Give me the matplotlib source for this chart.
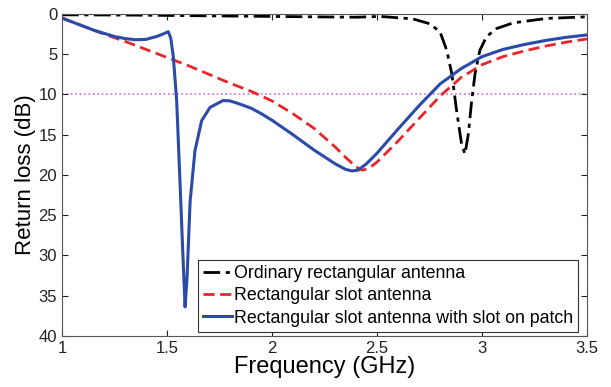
import numpy as np
import matplotlib.pyplot as plt

plt.rcParams['font.family'] = ['Liberation Sans', 'DejaVu Sans']

# ordinary rectangular antenna
f_ord = [1.0, 1.2, 1.4, 1.6, 1.8, 2.0, 2.2, 2.4, 2.514, 2.67, 2.75, 2.8, 2.832,
         2.856, 2.879, 2.903, 2.919, 2.935, 2.951, 2.967, 2.99, 3.022, 3.07,
         3.149, 3.308, 3.5]
rl_ord = [0.1, 0.12, 0.15, 0.2, 0.25, 0.3, 0.35, 0.4, 0.3, 0.6, 1.2, 2.2, 4.5,
          7.4, 12.0, 16.2, 17.4, 14.9, 10.75, 7.4, 4.5, 2.8, 1.8,
          1.1, 0.55, 0.35]

# rectangular slot antenna
f_slot = [1.0, 1.1, 1.2, 1.3, 1.4, 1.5, 1.6, 1.7, 1.8, 1.9, 2.0, 2.1, 2.2, 2.3,
          2.35, 2.4, 2.43, 2.46, 2.5, 2.6, 2.7, 2.8, 2.9, 3.0, 3.1, 3.2, 3.3,
          3.4, 3.5]
rl_slot = [0.5, 1.5, 2.5, 3.4, 4.4, 5.4, 6.4, 7.5, 8.6, 9.6, 10.8, 12.4, 14.2,
           16.5, 17.8, 19.0, 19.4, 19.2, 18.4, 15.8, 13.0, 10.2, 7.9, 6.3, 5.3,
           4.6, 4.0, 3.5, 3.1]

# rectangular slot antenna with slot on patch
f_patch = [1.0, 1.05, 1.1, 1.15, 1.2, 1.25, 1.3, 1.35, 1.4, 1.45, 1.48, 1.506,
           1.518, 1.53, 1.546, 1.562, 1.575, 1.586, 1.595, 1.61, 1.633,
           1.665, 1.705, 1.767, 1.8, 1.848, 1.9, 1.95, 2.0, 2.1,
           2.2, 2.3, 2.35, 2.38, 2.41, 2.45, 2.5, 2.6, 2.7, 2.8, 2.9, 3.0, 3.1,
           3.2, 3.3, 3.4, 3.5]
rl_patch = [0.5, 1.0, 1.5, 2.0, 2.4, 2.8, 3.05, 3.2, 3.15, 2.8, 2.5, 2.2,
            3.0, 5.3, 10.75, 21.0, 29.5, 36.4, 33.0, 23.3, 17.0,
            13.25, 11.6, 10.75, 10.8, 11.2, 11.7, 12.4, 13.2, 15.0,
            16.9, 18.6, 19.3, 19.5, 19.4, 18.6, 17.3, 14.3, 11.4, 8.7, 6.8, 5.3, 4.4,
            3.8, 3.3, 2.9, 2.6]

ref_level = 10

fig = plt.figure(figsize=(6.11, 3.87), dpi=100)
ax = fig.add_axes([0.1015, 0.132, 0.8592, 0.8318])

ax.axhline(ref_level, color='#d46ad4', linestyle=':', linewidth=1.2, zorder=1)
ax.plot(f_ord, rl_ord, color='black', linestyle=(0, (6, 2, 1.5, 2)),
        linewidth=2, label='Ordinary rectangular antenna')
ax.plot(f_slot, rl_slot, color='#e8262a', linestyle=(0, (4, 2)),
        linewidth=2, label='Rectangular slot antenna')
ax.plot(f_patch, rl_patch, color='#2c4aa8', linewidth=2.2,
        label='Rectangular slot antenna with slot on patch')

ax.set_xlim(1, 3.5)
ax.set_ylim(40, 0)
ax.set_xticks(np.arange(1, 3.51, 0.5))
ax.set_xticklabels(['1', '1.5', '2', '2.5', '3', '3.5'])
ax.set_yticks(np.arange(0, 41, 5))
ax.tick_params(direction='in', top=True, right=True, labelsize=12,
               colors='#222222', length=4, width=0.8)
for s in ax.spines.values():
    s.set_color('#555555')
    s.set_linewidth(0.8)

ax.set_xlabel('Frequency (GHz)', fontsize=17, labelpad=0)
ax.set_ylabel('Return loss (dB)', fontsize=16, labelpad=2)

leg = ax.legend(loc='lower right', bbox_to_anchor=(0.983, 0.012),
                fontsize=12.8, fancybox=False,
                framealpha=1, edgecolor='#333333', handlelength=1.6,
                handletextpad=0.1, borderpad=0.3, labelspacing=0.3,
                borderaxespad=0)
leg.get_frame().set_linewidth(0.8)

fig.savefig('out.png', dpi=100)
